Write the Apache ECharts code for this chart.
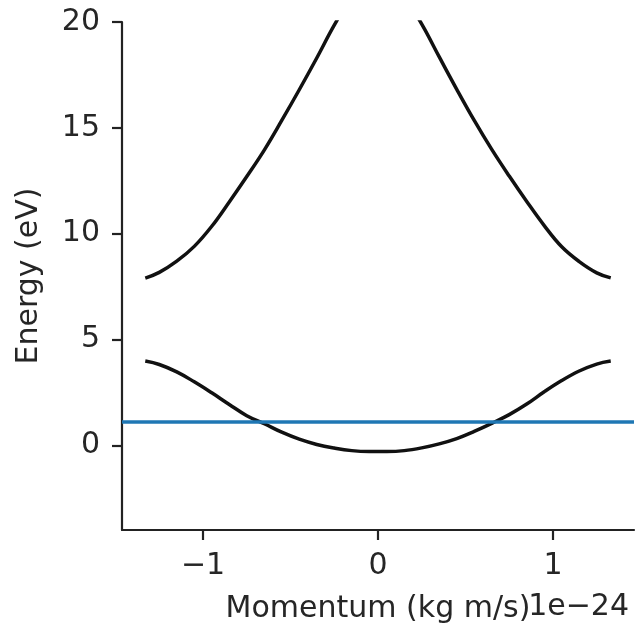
<!DOCTYPE html>
<html>
<head>
<meta charset="utf-8">
<script src="https://cdn.jsdelivr.net/npm/echarts@6/dist/echarts.min.js"></script>
<style>
html,body{margin:0;padding:0;background:#fff;}
#chart{width:637px;height:629px;}
</style>
</head>
<body>
<div id="chart"></div>
<script>
// Momentum in units of 1e-24 kg m/s
const momentum = [-1.33, -1.25, -1.15, -1.05, -0.95, -0.85, -0.75, -0.65, -0.55, -0.45, -0.35, -0.25, -0.15, -0.05,
                  0.05, 0.15, 0.25, 0.35, 0.45, 0.55, 0.65, 0.75, 0.85, 0.95, 1.05, 1.15, 1.25, 1.33];
const lowerBand = [3.98, 3.82, 3.47, 3.0, 2.48, 1.93, 1.40, 1.02, 0.62, 0.29, 0.04, -0.13, -0.25, -0.29,
                   -0.29, -0.25, -0.12, 0.07, 0.32, 0.66, 1.04, 1.45, 1.95, 2.53, 3.06, 3.51, 3.84, 3.98];
const upperBand = [7.9, 8.17, 8.7, 9.4, 10.35, 11.5, 12.7, 13.95, 15.35, 16.8, 18.3, 19.85, 21.2, 22.0,
                   22.0, 21.2, 19.9, 18.35, 16.82, 15.35, 13.98, 12.72, 11.52, 10.38, 9.38, 8.68, 8.15, 7.91];
const fermiLevel = 1.1;
const xRange = [-1.463, 1.463];
const yRange = [-4, 20];
const xTicks = [-1, 0, 1];
const yTicks = [0, 5, 10, 15, 20];
const xOffsetText = '1e\u221224';
const xLabel = 'Momentum (kg m/s)';
const yLabel = 'Energy (eV)';

const FONT = 'DejaVu Sans';
const FS = 30;
const TXT = '#262626';
const fmt = v => (v < 0 ? '\u2212' + Math.abs(v) : String(v));

const chart = echarts.init(document.getElementById('chart'), null, {renderer: 'canvas'});
chart.setOption({
  animation: false,
  backgroundColor: '#fff',
  grid: {left: 122, right: 3, top: 22, bottom: 97, containLabel: false},
  xAxis: {
    type: 'value', min: xRange[0], max: xRange[1],
    name: xLabel, nameLocation: 'middle', nameGap: 64,
    nameTextStyle: {fontFamily: FONT, fontSize: FS, color: TXT},
    axisLine: {show: true, onZero: false, lineStyle: {color: '#222', width: 2.2}},
    axisTick: {show: true, length: 10, lineStyle: {color: '#222', width: 2.2}, customValues: xTicks},
    axisLabel: {fontFamily: FONT, fontSize: FS, color: TXT, margin: 21, customValues: xTicks, formatter: fmt},
    splitLine: {show: false}
  },
  yAxis: {
    type: 'value', min: yRange[0], max: yRange[1],
    name: yLabel, nameLocation: 'middle', nameGap: 78, nameRotate: 90,
    nameTextStyle: {fontFamily: FONT, fontSize: FS, color: TXT},
    axisLine: {show: true, onZero: false, lineStyle: {color: '#222', width: 2.2}},
    axisTick: {show: true, length: 10, lineStyle: {color: '#222', width: 2.2}, customValues: yTicks},
    axisLabel: {fontFamily: FONT, fontSize: FS, color: TXT, margin: 22, customValues: yTicks, formatter: fmt},
    splitLine: {show: false}
  },
  graphic: [{
    type: 'text', x: 629, y: 607,
    style: {text: xOffsetText, font: FS + 'px "DejaVu Sans"', fill: TXT, align: 'right', verticalAlign: 'middle'}
  }],
  series: [
    {
      type: 'line', data: momentum.map((x, i) => [x, upperBand[i]]),
      smooth: 0.4, symbol: 'none', clip: true,
      lineStyle: {color: '#111', width: 3.5}
    },
    {
      type: 'line', data: momentum.map((x, i) => [x, lowerBand[i]]),
      smooth: 0.4, symbol: 'none', clip: true,
      lineStyle: {color: '#111', width: 3.5}
    },
    {
      type: 'line', data: xRange.map(x => [x, fermiLevel]),
      symbol: 'none', clip: true,
      lineStyle: {color: '#1f77b4', width: 3.5}
    }
  ]
});
</script>
</body>
</html>
